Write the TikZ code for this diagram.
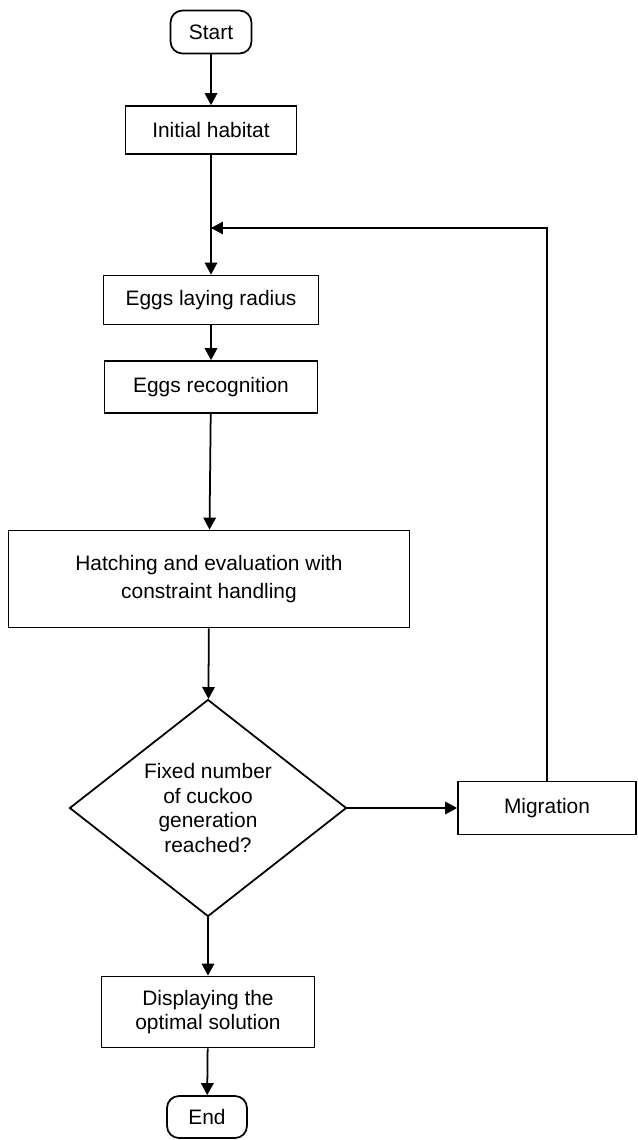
\documentclass[tikz,border=0pt]{standalone}
\usepackage{fontspec}
\setmainfont{Liberation Sans}
\usetikzlibrary{arrows.meta,shapes.geometric}

\begin{document}
\begin{tikzpicture}[x=0.02cm, y=-0.02cm,
		box/.style={draw, line width=1pt, inner sep=0pt, align=center, font=\fontsize{11.9}{14}\selectfont},
		term/.style={box, rounded corners=2.4mm},
		decision/.style={box, diamond},
		flow/.style={line width=1pt, -{Triangle[length=2.4mm, width=2.5mm]}}]
			%%%%% START %%%%%
			
			\useasboundingbox (0, 0) rectangle (638, 1140);
			
			\node[term, minimum width=1.62cm, minimum height=0.86cm] (start) at (211, 32) {Start};
			\node[box, minimum width=3.42cm, minimum height=0.96cm] (init) at (211, 130) {Initial habitat};
			\node[box, minimum width=4.3cm, minimum height=0.98cm] (radius) at (211, 300) {Eggs laying radius};
			\node[box, minimum width=4.26cm, minimum height=1.04cm] (recog) at (211, 387) {Eggs recognition};
			\node[box, minimum width=8.02cm, minimum height=1.94cm] (hatch) at (209, 579) {Hatching and evaluation with\\[2pt] constraint handling};
			\node[decision, minimum width=5.54cm, minimum height=4.2cm] (check) at (208, 808) {Fixed number\\ of cuckoo\\ generation\\ reached?};
			\node[box, minimum width=3.56cm, minimum height=1.06cm] (mig) at (547, 808) {Migration};
			\node[box, minimum width=4.26cm, minimum height=1.42cm] (disp) at (208, 1012) {Displaying the\\ optimal solution};
			\node[term, minimum width=1.6cm, minimum height=0.84cm] (end) at (207, 1117) {End};
			
			\coordinate (join) at (211, 228);
			
			\draw[flow] (start) -- (init);
			\draw[flow] (init) -- (radius);
			\draw[flow] (radius) -- (recog);
			\draw[flow] (recog) -- (hatch);
			\draw[flow] (hatch) -- (check);
			\draw[flow] (check) -- (mig);
			\draw[flow] (mig.north) |- (join);
			\draw[flow] (check) -- (disp);
			\draw[flow] (disp) -- (end);
			
			%%%%% END %%%%%
\end{tikzpicture}
\end{document}
